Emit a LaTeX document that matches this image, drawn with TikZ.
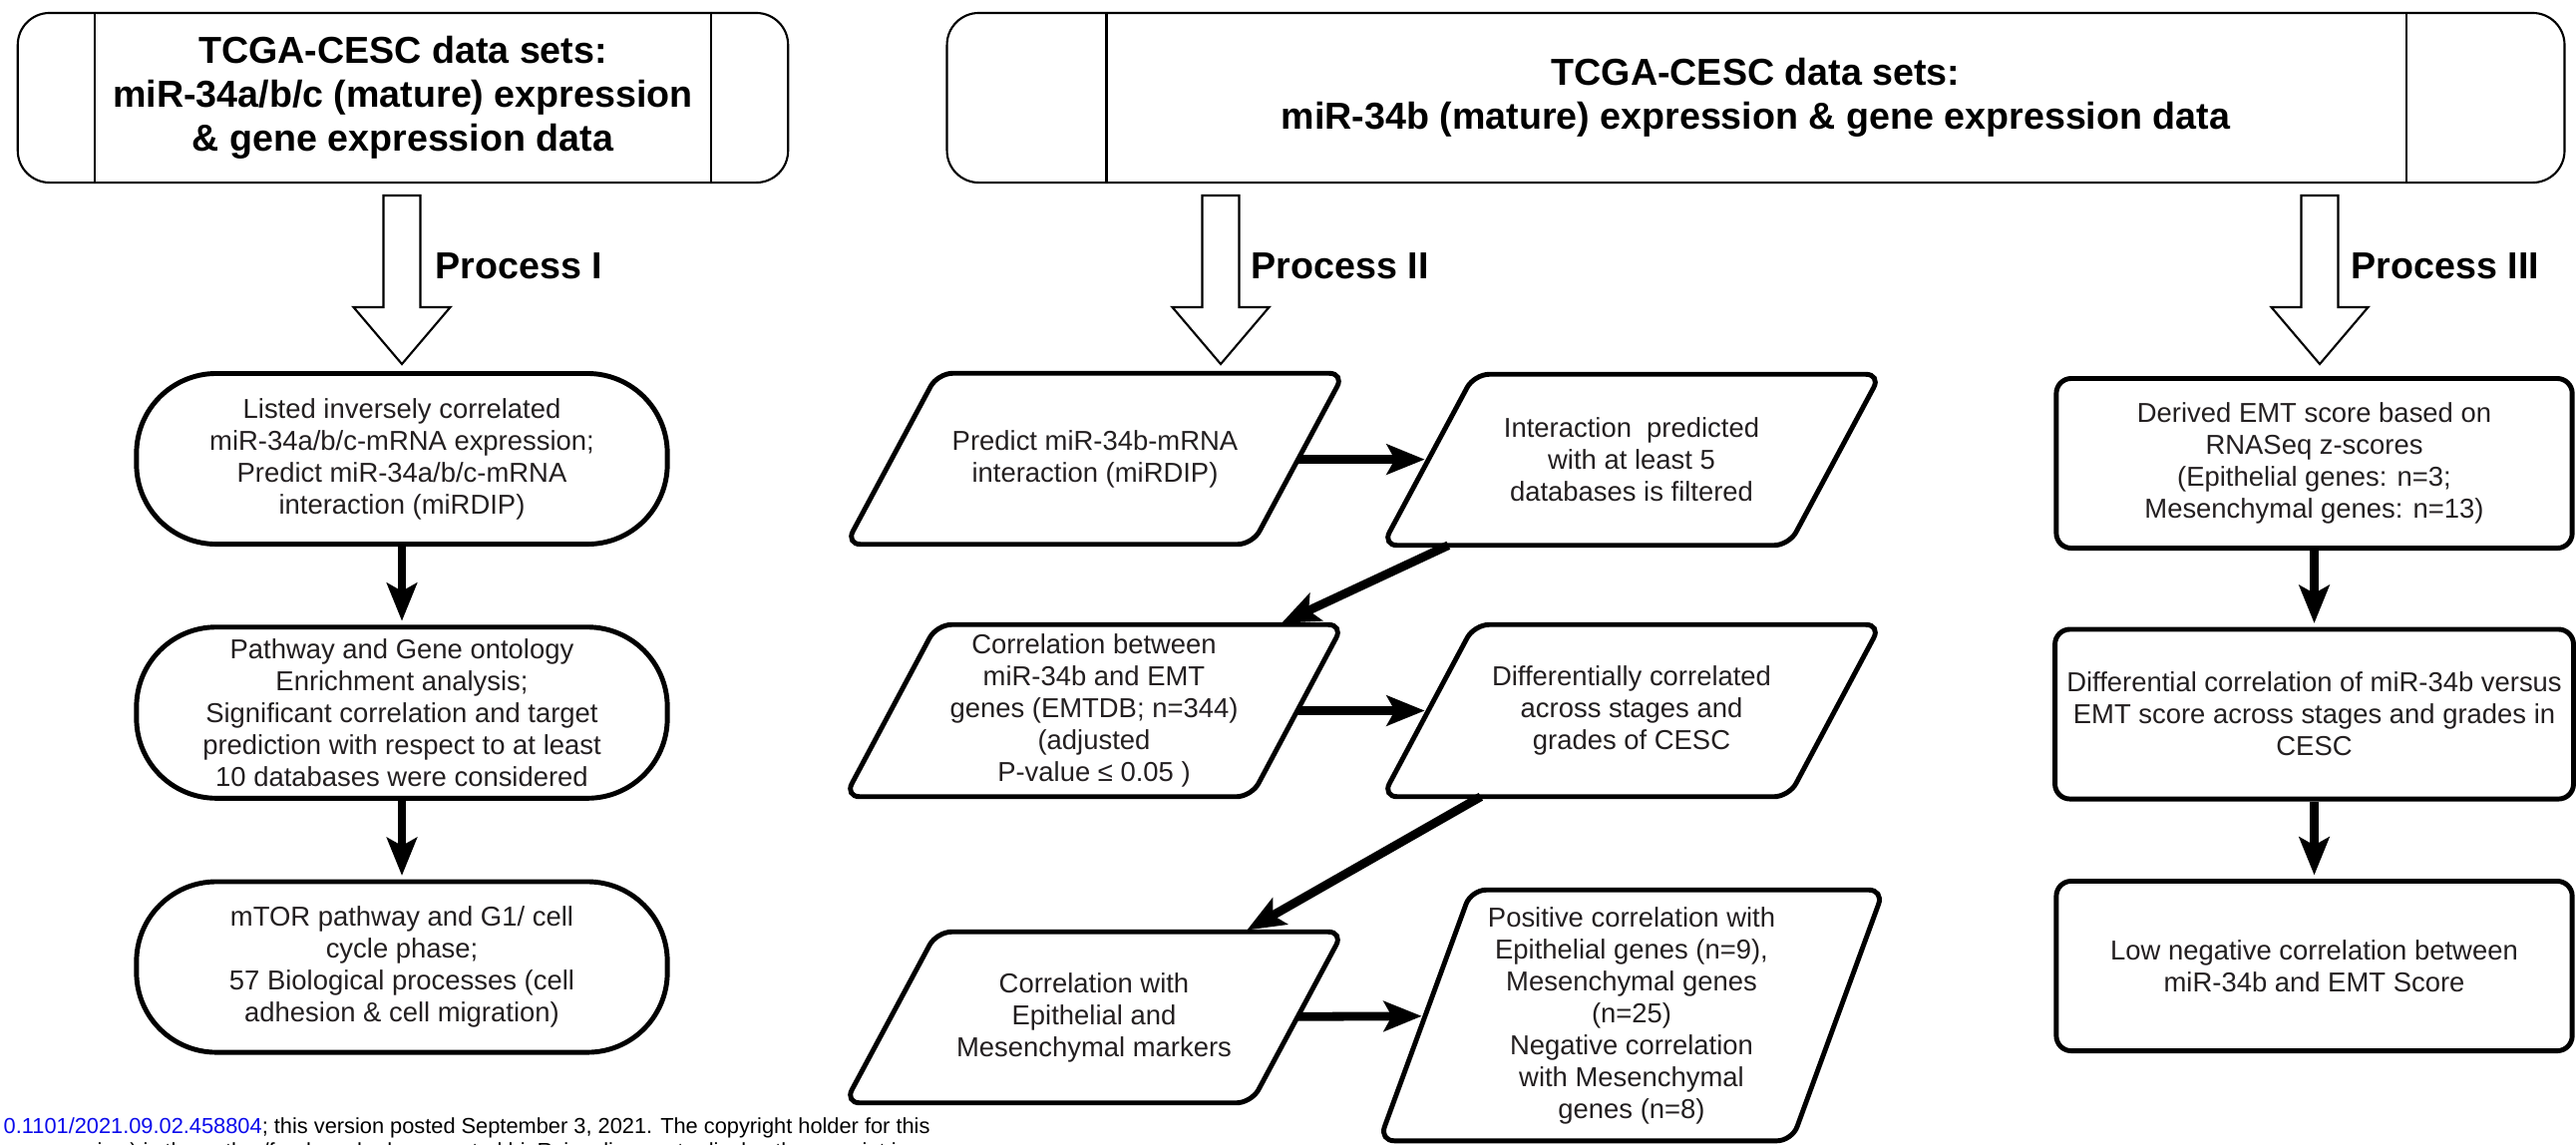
\documentclass[tikz,border=0pt]{standalone}
\usepackage{fontspec}
\setmainfont{Liberation Sans}
\usetikzlibrary{arrows.meta,calc}
\definecolor{txtgray}{RGB}{35,31,32}
\definecolor{linkblue}{RGB}{10,10,235}

\begin{document}
\begin{tikzpicture}[x=0.01cm,y=-0.01cm,
  hdr/.style={draw,line width=0.6pt,rounded corners=0.32cm,align=center,
    font=\fontsize{10.7}{12.5}\selectfont\bfseries},
  proclabel/.style={anchor=west,inner sep=0pt,
    font=\fontsize{10.7}{12.5}\selectfont\bfseries},
  stadium/.style={draw,line width=1.4pt,rounded corners=0.8cm,align=center,
    minimum width=5.32cm,minimum height=1.71cm,text=txtgray,
    font=\fontsize{7.8}{9.1}\selectfont},
  para/.style={align=center,inner sep=0pt,minimum width=4.06cm,
    minimum height=1.7cm,text=txtgray,font=\fontsize{7.8}{9.1}\selectfont},
  paraline/.style={draw,line width=1.4pt,rounded corners=0.15cm},
  scorebox/.style={draw,line width=1.4pt,rounded corners=0.15cm,align=center,
    minimum width=5.17cm,minimum height=1.7cm,text=txtgray,
    font=\fontsize{7.8}{9.1}\selectfont},
  flow/.style={line width=2.5pt,shorten >=1pt,
    -{Stealth[length=0.38cm,width=0.3cm,inset=0.08cm]}},
  bigarrow/.style={draw,line width=0.6pt,fill=white},
  foot/.style={anchor=west,inner sep=0pt,font=\fontsize{6.2}{7}\selectfont}]
\useasboundingbox (0,0) rectangle (2583,1147);

% data set headers
\node [hdr,minimum width=7.72cm,minimum height=1.7cm] (hdrL) at (404,98)
  {TCGA-CESC data sets:\\miR-34a/b/c (mature) expression\\\& gene expression data};
\draw [line width=0.6pt] ($(hdrL.north west)+(78,0)$) -- ($(hdrL.south west)+(78,0)$);
\draw [line width=0.6pt] ($(hdrL.north east)+(-78,0)$) -- ($(hdrL.south east)+(-78,0)$);
\node [hdr,minimum width=16.21cm,minimum height=1.7cm] (hdrR) at (1760.5,98)
  {TCGA-CESC data sets:\\miR-34b (mature) expression \& gene expression data};
\draw [line width=0.6pt] ($(hdrR.north west)+(161,0)$) -- ($(hdrR.south west)+(161,0)$);
\draw [line width=0.6pt] ($(hdrR.north east)+(-160,0)$) -- ($(hdrR.south east)+(-160,0)$);

% process arrows
\coordinate (tipI) at (403,365);
\coordinate (tipII) at (1224,365);
\coordinate (tipIII) at (2326,365);
\foreach \t in {tipI,tipII,tipIII}
  \draw [bigarrow] (\t) -- ++(48.5,-57) -- ++(-30,0) -- ++(0,-112)
    -- ++(-37,0) -- ++(0,112) -- ++(-30,0) -- cycle;
\node [proclabel] (lblI) at (436,267) {Process I};
\node [proclabel] (lblII) at (1254,267) {Process II};
\node [proclabel] (lblIII) at (2357,267) {Process III};

% process I
\node [stadium] (listed) at (403,460)
  {Listed inversely correlated\\miR-34a/b/c-mRNA expression;\\Predict miR-34a/b/c-mRNA\\interaction (miRDIP)};
\node [stadium] (pathway) at (403,714.5)
  {Pathway and Gene ontology\\Enrichment analysis;\\Significant correlation and target\\prediction with respect to at least\\10 databases were considered};
\node [stadium] (mtor) at (403,969.5)
  {mTOR pathway and G1/ cell\\cycle phase;\\57 Biological processes (cell\\adhesion \& cell migration)};
\draw [flow] (listed) -- (pathway);
\draw [flow] (pathway) -- (mtor);

% process II
\node [para] (predict) at (1098,460)
  {Predict miR-34b-mRNA\\interaction (miRDIP)};
\node [para] (filtered) at (1636,461)
  {Interaction\ \ predicted\\with at least 5\\databases is filtered};
\node [para,minimum height=1.71cm] (emtcorr) at (1097,712.5)
  {Correlation between\\miR-34b and EMT\\genes (EMTDB; n=344)\\(adjusted\\P-value ≤ 0.05 )};
\node [para,minimum height=1.71cm] (stages) at (1636,712.5)
  {Differentially correlated\\across stages and\\grades of CESC};
\node [para] (markers) at (1097,1020)
  {Correlation with\\Epithelial and\\Mesenchymal markers};
\node [para,minimum width=4.12cm,minimum height=2.5cm] (posneg) at (1636,1018)
  {Positive correlation with\\Epithelial genes (n=9),\\Mesenchymal genes\\(n=25)\\Negative correlation\\with Mesenchymal\\genes (n=8)};
\foreach \n in {predict,filtered,emtcorr,stages,markers,posneg}
  \draw [paraline] ([xshift=-0.46cm]\n.south west) -- ([xshift=0.46cm]\n.north west)
    -- ([xshift=0.46cm]\n.north east) -- ([xshift=-0.46cm]\n.south east) -- cycle;
\draw [flow] (predict) -- (filtered);
\draw [flow] (filtered) -- (emtcorr);
\draw [flow] (emtcorr) -- (stages);
\draw [flow] (stages) -- (markers);
\draw [flow] (markers) -- (posneg);

% process III
\node [scorebox] (score) at (2320.5,464.5)
  {Derived EMT score based on\\RNASeq z-scores\\(Epithelial genes: n=3;\\Mesenchymal genes: n=13)};
\node [scorebox] (diffcorr) at (2320.5,716)
  {Differential correlation of miR-34b versus\\EMT score across stages and grades in\\CESC};
\node [scorebox] (lowneg) at (2320.5,968.5)
  {Low negative correlation between\\miR-34b and EMT Score};
\draw [flow] (score) -- (diffcorr);
\draw [flow] (diffcorr) -- (lowneg);

% preprint footer
\node [foot] (foot1) at (3,1131)
  {\textcolor{linkblue}{0.1101/2021.09.02.458804}; this version posted September 3, 2021. The copyright holder for this};
\node [foot] (foot2) at (0,1156)
  {y peer review) is the author/funder, who has granted bioRxiv a license to display the preprint in};
\end{tikzpicture}
\end{document}
